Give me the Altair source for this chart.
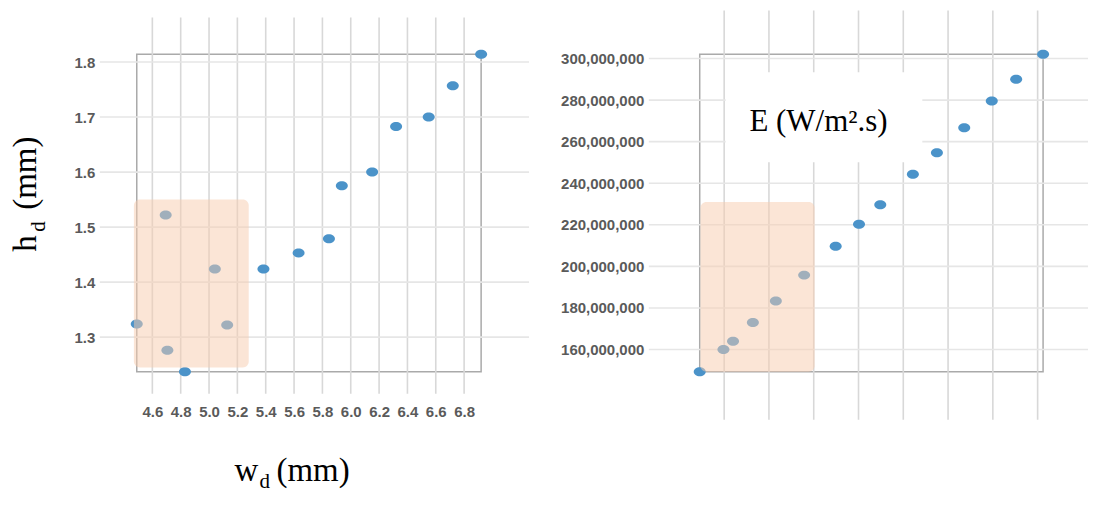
import altair as alt
import pandas as pd

# ---------------- data ----------------
# left panel: h_d versus w_d (mm)
w_d = [4.49, 4.694, 4.706, 4.83, 5.041, 5.128, 5.384, 5.632, 5.846, 5.937,
       6.151, 6.32, 6.55, 6.72, 6.92]
h_d = [1.324, 1.522, 1.276, 1.237, 1.424, 1.322, 1.424, 1.453, 1.479, 1.575,
       1.600, 1.683, 1.700, 1.757, 1.814]

# right panel: E (W/m².s); horizontal position in grid-step units (no labels shown)
x_E = [0.454, 0.984, 1.198, 1.641, 2.154, 2.786, 3.490, 4.011, 4.486, 5.214,
       5.751, 6.361, 6.976, 7.521, 8.122]
E = [149.3e6, 160.0e6, 164.0e6, 173.0e6, 183.3e6, 195.8e6, 209.7e6, 220.3e6,
     229.7e6, 244.3e6, 254.7e6, 266.7e6, 279.6e6, 290.0e6, 302.0e6]

# tick values
left_x_ticks = [4.6, 4.8, 5.0, 5.2, 5.4, 5.6, 5.8, 6.0, 6.2, 6.4, 6.6, 6.8]
left_y_ticks = [1.3, 1.4, 1.5, 1.6, 1.7, 1.8]
right_x_ticks = [1, 2, 3, 4, 5, 6, 7, 8]
right_y_ticks = [160e6, 180e6, 200e6, 220e6, 240e6, 260e6, 280e6, 300e6]

# highlighted regions
left_hl_x = [4.47, 5.28]
left_hl_y = [1.245, 1.55]
right_hl_x = [0.47, 3.02]
right_hl_y = [149.3e6, 231.0e6]

# ---------------- styling ----------------
PT_COLOR = "#4b93c9"
HL_COLOR = "#F8CBAD"
VGRID = "#d8d8d8"
HGRID = "#e6e6e6"
SERIF = "Liberation Serif"
ELLIPSE = "M-1,0A1,0.75,0,1,1,1,0A1,0.75,0,1,1,-1,0Z"

LW, LH = 345, 318
RW, RH = 344, 318

# ---------------- left panel ----------------
lx_scale = alt.Scale(domain=[min(w_d), max(w_d)], nice=False, zero=False)
ly_scale = alt.Scale(domain=[min(h_d), max(h_d)], nice=False, zero=False)
lx_axis = alt.Axis(title=None, values=left_x_ticks, format=".1f", labelPadding=33,
                   labelOverlap=False, labelFlush=False)
ly_axis = alt.Axis(title=None, values=left_y_ticks, format=".1f", labelPadding=42,
                   labelOverlap=False, labelFlush=False)

left_df = pd.DataFrame({"w": w_d, "h": h_d})

l_vgrid = alt.Chart(pd.DataFrame({"v": left_x_ticks})).mark_rule(
    color=VGRID, strokeWidth=1.6
).encode(
    x=alt.X("v:Q", scale=lx_scale, axis=lx_axis),
    y=alt.value(-37), y2=alt.value(LH + 22),
)
l_hgrid = alt.Chart(pd.DataFrame({"v": left_y_ticks})).mark_rule(
    color=HGRID, strokeWidth=1.6
).encode(
    y=alt.Y("v:Q", scale=ly_scale, axis=ly_axis),
    x=alt.value(-37), x2=alt.value(LW + 48),
)
l_points = alt.Chart(left_df).mark_point(
    shape=ELLIPSE, filled=True, size=144, color=PT_COLOR, opacity=1
).encode(
    x=alt.X("w:Q", scale=lx_scale, axis=lx_axis),
    y=alt.Y("h:Q", scale=ly_scale, axis=ly_axis),
)
l_hl = alt.Chart(pd.DataFrame({"x": [left_hl_x[0]], "x2": [left_hl_x[1]],
                               "y": [left_hl_y[0]], "y2": [left_hl_y[1]]})).mark_rect(
    color=HL_COLOR, opacity=0.5, cornerRadius=6
).encode(
    x=alt.X("x:Q", scale=lx_scale, axis=lx_axis), x2="x2:Q",
    y=alt.Y("y:Q", scale=ly_scale, axis=ly_axis), y2="y2:Q",
)


def txt(s, x, y, size, angle=0, font=SERIF):
    kw = dict(font=font, fontSize=size, align="left", baseline="alphabetic", color="black")
    if angle:
        kw["angle"] = angle
    return alt.Chart(pd.DataFrame({"t": [s]})).mark_text(**kw).encode(
        text="t:N", x=alt.value(x), y=alt.value(y)
    )


# x title: w_d (mm)
lx_t1 = txt("w", 98, 427.7, 33)
lx_t2 = txt("d", 123, 434.7, 21)
lx_t3 = txt("(mm)", 140, 427.7, 33)
# y title: h_d (mm), rotated
ly_t1 = txt("h", -101, 197.7, 33, angle=270)
ly_t2 = txt("d", -92, 177.7, 21, angle=270)
ly_t3 = txt("(mm)", -101, 155.7, 33, angle=270)

# invisible anchor to fix the chart's left edge
anchor = alt.Chart(pd.DataFrame({"a": [0]})).mark_rule(color="white", strokeWidth=1).encode(
    x=alt.value(-127), x2=alt.value(-126), y=alt.value(200)
)

left = alt.layer(
    l_vgrid, l_hgrid, l_points, l_hl, lx_t1, lx_t2, lx_t3, ly_t1, ly_t2, ly_t3, anchor
).properties(width=LW, height=LH)

# ---------------- right panel ----------------
rx_scale = alt.Scale(domain=[min(x_E), max(x_E)], nice=False, zero=False)
ry_scale = alt.Scale(domain=[min(E), max(E)], nice=False, zero=False)
rx_axis = alt.Axis(title=None, values=right_x_ticks, labels=False)
ry_axis = alt.Axis(title=None, values=right_y_ticks, format=",d", labelPadding=56,
                   labelOverlap=False, labelFlush=False)

right_df = pd.DataFrame({"x": x_E, "E": E})

r_vgrid = alt.Chart(pd.DataFrame({"v": right_x_ticks})).mark_rule(
    color=VGRID, strokeWidth=1.6
).encode(
    x=alt.X("v:Q", scale=rx_scale, axis=rx_axis),
    y=alt.value(-44), y2=alt.value(RH + 48),
)
r_hgrid = alt.Chart(pd.DataFrame({"v": right_y_ticks})).mark_rule(
    color=HGRID, strokeWidth=1.6
).encode(
    y=alt.Y("v:Q", scale=ry_scale, axis=ry_axis),
    x=alt.value(-51), x2=alt.value(RW + 45),
)
r_box = alt.Chart(pd.DataFrame({"a": [0]})).mark_rect(color="white").encode(
    x=alt.value(26), x2=alt.value(223), y=alt.value(18), y2=alt.value(108)
)
r_points = alt.Chart(right_df).mark_point(
    shape=ELLIPSE, filled=True, size=144, color=PT_COLOR, opacity=1
).encode(
    x=alt.X("x:Q", scale=rx_scale, axis=rx_axis),
    y=alt.Y("E:Q", scale=ry_scale, axis=ry_axis),
)
r_hl = alt.Chart(pd.DataFrame({"x": [right_hl_x[0]], "x2": [right_hl_x[1]],
                               "y": [right_hl_y[0]], "y2": [right_hl_y[1]]})).mark_rect(
    color=HL_COLOR, opacity=0.5, cornerRadius=6
).encode(
    x=alt.X("x:Q", scale=rx_scale, axis=rx_axis), x2="x2:Q",
    y=alt.Y("y:Q", scale=ry_scale, axis=ry_axis), y2="y2:Q",
)
r_title = alt.Chart(pd.DataFrame({"t": ["E (W/m².s)"]})).mark_text(
    font=SERIF, fontSize=31, align="center", baseline="alphabetic", color="black"
).encode(text="t:N", x=alt.value(119), y=alt.value(77))

right = alt.layer(r_vgrid, r_hgrid, r_box, r_points, r_hl, r_title).properties(
    width=RW, height=RH
)

chart = alt.hconcat(left, right, spacing=219, bounds="flush").properties(
    padding=0, background="white"
).configure_view(
    stroke="#aaaaaa", strokeWidth=1.5
).configure_axis(
    grid=False, domain=False, ticks=False,
    labelFont="Liberation Sans", labelFontSize=15, labelFontWeight="bold",
    labelColor="#5a5a5a",
)

chart.save("out.html", embed_options={"renderer": "svg", "actions": False})
